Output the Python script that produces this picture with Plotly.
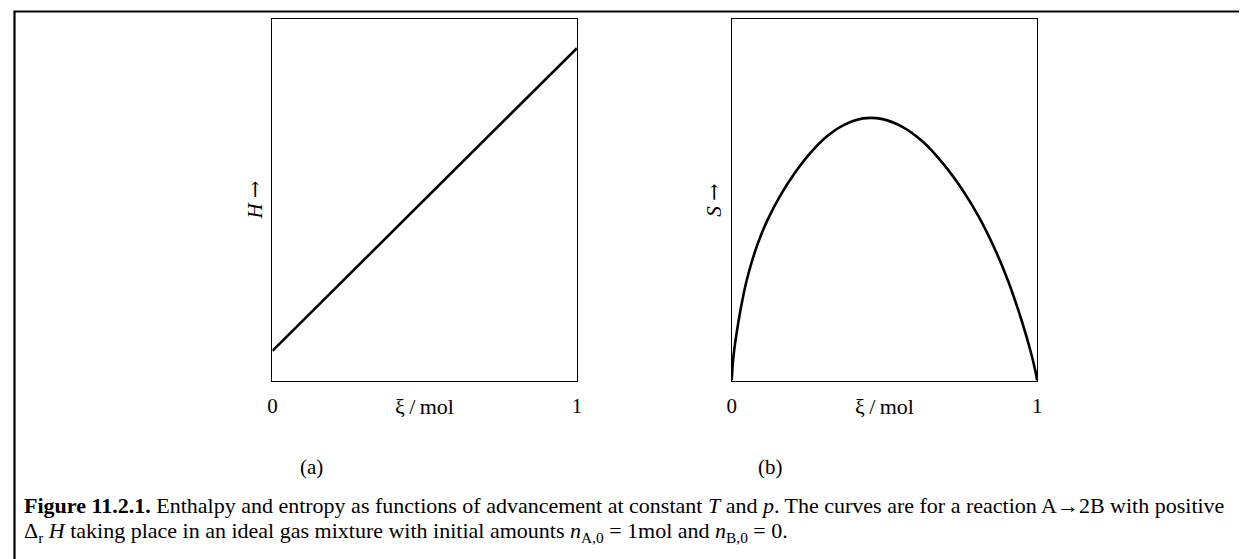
import plotly.graph_objects as go

# ---- data (normalised units, box = 0..1) ----
xi_H = [0.0, 1.0]
H_vals = [0.082, 0.918]

xi_S = [0.0, 0.005, 0.014, 0.030, 0.051, 0.084, 0.117, 0.160, 0.203, 0.257, 0.311,
        0.365, 0.430, 0.494, 0.560, 0.625, 0.690, 0.755, 0.809, 0.863, 0.906,
        0.950, 0.977, 0.993, 1.0]
S_vals = [0.0, 0.060, 0.119, 0.200, 0.283, 0.375, 0.443, 0.512, 0.569, 0.628, 0.674,
          0.705, 0.724, 0.722, 0.700, 0.660, 0.601, 0.527, 0.452, 0.360, 0.272,
          0.163, 0.085, 0.030, 0.0]

tick_vals = [0, 1]
tick_text = ["0", "1"]
x_title = "ξ\u2009/\u2009mol"
ARROW = '<span style="font-family:DejaVu Serif">→</span>'
y_titles = ["<i>H</i> " + ARROW, "<i>S</i> " + ARROW]
panel_labels = ["(a)", "(b)"]
caption_1 = ("<b>Figure 11.2.1.</b> Enthalpy and entropy as functions of advancement at "
             "constant <i>T</i> and <i>p</i>. The curves are for a reaction A→2B with positive")
caption_2 = ("Δ<sub>r</sub> <i>H</i> taking place in an ideal gas mixture with initial amounts "
             "<i>n</i><sub>A,0</sub> = 1mol and <i>n</i><sub>B,0</sub> = 0.")

W, H = 1247, 559
OFF = 8  # page body margin
FONT = "Liberation Serif"

def px_x(p):
    return (p - OFF) / W

def px_y(p):
    return 1 - (p - OFF) / H

dom_a = [px_x(269.5), px_x(576.5)]
dom_b = [px_x(732.5), px_x(1040.5)]
dom_y = [px_y(380.5), px_y(18.5)]

fig = go.Figure()
fig.add_trace(go.Scatter(x=xi_H, y=H_vals, mode="lines",
                         line=dict(color="black", width=2.6),
                         xaxis="x", yaxis="y", showlegend=False, hoverinfo="skip"))
fig.add_trace(go.Scatter(x=xi_S, y=S_vals, mode="lines",
                         line=dict(color="black", width=2.6, shape="spline", smoothing=1.0),
                         xaxis="x2", yaxis="y2", showlegend=False, hoverinfo="skip"))

ax_common = dict(showgrid=False, zeroline=False, showline=True, mirror=True,
                 linecolor="black", linewidth=1.4, ticks="", fixedrange=True)
TF = 21

fig.update_layout(
    width=W, height=H,
    margin=dict(l=0, r=0, t=0, b=0),
    paper_bgcolor="white", plot_bgcolor="white",
    font=dict(family=FONT, color="black"),
    xaxis=dict(domain=dom_a, range=[0, 1], anchor="y", tickvals=tick_vals,
               ticktext=tick_text, tickfont=dict(size=TF, family=FONT),
               ticklabelstandoff=6, **ax_common),
    yaxis=dict(domain=dom_y, range=[0, 1], anchor="x", showticklabels=False, **ax_common),
    xaxis2=dict(domain=dom_b, range=[0, 1], anchor="y2", tickvals=tick_vals,
                ticktext=tick_text, tickfont=dict(size=TF, family=FONT),
                ticklabelstandoff=6, **ax_common),
    yaxis2=dict(domain=dom_y, range=[0, 1], anchor="x2", showticklabels=False, **ax_common),
)

annots = []
for dom, ytxt, lab in [(dom_a, y_titles[0], panel_labels[0]), (dom_b, y_titles[1], panel_labels[1])]:
    cx = (dom[0] + dom[1]) / 2
    annots.append(dict(xref="paper", yref="paper", x=cx, y=px_y(406), text=x_title,
                       showarrow=False, xanchor="center", yanchor="middle",
                       font=dict(size=22, family=FONT)))
    annots.append(dict(xref="paper", yref="paper", x=dom[0] - 18 / W, y=px_y(200), text=ytxt,
                       showarrow=False, xanchor="center", yanchor="middle", textangle=-90,
                       font=dict(size=TF, family=FONT)))
    annots.append(dict(xref="paper", yref="paper", x=dom[0] + 39 / W, y=px_y(467), text=lab,
                       showarrow=False, xanchor="center", yanchor="middle",
                       font=dict(size=TF, family=FONT)))

annots.append(dict(xref="paper", yref="paper", x=px_x(17), y=px_y(505.5), text=caption_1,
                   showarrow=False, xanchor="left", yanchor="middle",
                   font=dict(size=22, family=FONT)))
annots.append(dict(xref="paper", yref="paper", x=px_x(17), y=px_y(531.5), text=caption_2,
                   showarrow=False, xanchor="left", yanchor="middle",
                   font=dict(size=22, family=FONT)))
fig.update_layout(annotations=annots)

# outer frame: only its top and left edges fall inside the visible page
fig.add_shape(type="rect", xref="paper", yref="paper",
              x0=px_x(9.5), x1=1.2, y0=-0.2, y1=px_y(11.5),
              line=dict(color="black", width=2.2), fillcolor="rgba(0,0,0,0)", layer="below")

fig.write_html("out.html")
